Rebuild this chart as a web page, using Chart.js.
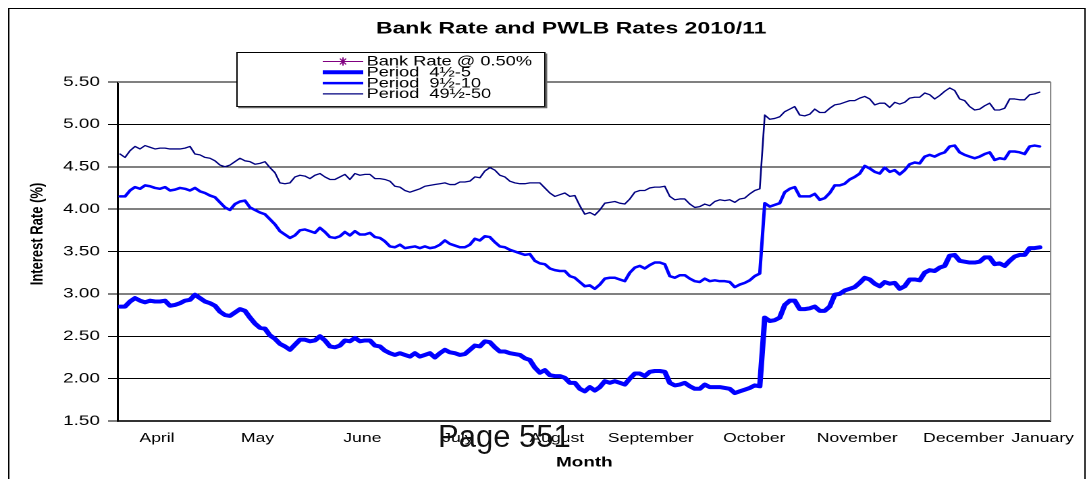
<!DOCTYPE html>
<html>
<head>
<meta charset="utf-8">
<title>Bank Rate and PWLB Rates 2010/11</title>
<script src="https://cdn.jsdelivr.net/npm/chart.js@4/dist/chart.umd.min.js"></script>
<style>
  html, body { margin: 0; padding: 0; background: #fff; }
  #page { position: relative; width: 1087px; height: 479px; overflow: hidden; }
  /* the scanned chart is stretched sideways, so draw it narrower and widen it */
  #stretch { position: absolute; left: 0; top: 0; width: 805px; height: 479px;
             transform: scaleX(1.3503); transform-origin: 0 0; }
  #pageNo { position: absolute; left: 438px; top: 419px; color: #111;
            font-family: 'Liberation Sans', Arial, sans-serif; font-size: 31px; line-height: 36px; }
</style>
</head>
<body>
<div id="page">
  <div id="stretch"><canvas id="rateChart"></canvas></div>
  <div id="pageNo">Page 551</div>
</div>
<script>
// Bank Rate and PWLB rates, one value per business day, April 2010 - January 2011

const chartTitle = 'Bank Rate and PWLB Rates 2010/11';
const yTitle = 'Interest Rate (%)';
const xTitle = 'Month';

const monthNames = ['April', 'May', 'June', 'July', 'August', 'September',
                    'October', 'November', 'December', 'January'];
// where each month label sits along the day axis
const monthPos = [7.4, 27.5, 48.5, 67.6, 87.4, 106.2, 126.9, 147.5, 168.8, 184.6];

const period5 = [
  2.85, 2.85, 2.91, 2.95, 2.92, 2.90, 2.92, 2.91, 2.91, 2.92,
  2.86, 2.87, 2.89, 2.92, 2.93, 2.99, 2.95, 2.91, 2.89, 2.86,
  2.79, 2.75, 2.74, 2.78, 2.82, 2.80, 2.72, 2.65, 2.60, 2.59,
  2.51, 2.47, 2.41, 2.38, 2.34, 2.40, 2.46, 2.46, 2.44, 2.45,
  2.50, 2.45, 2.38, 2.37, 2.39, 2.45, 2.44, 2.48, 2.44, 2.45,
  2.45, 2.39, 2.38, 2.33, 2.30, 2.28, 2.30, 2.28, 2.26, 2.30,
  2.26, 2.28, 2.30, 2.25, 2.30, 2.34, 2.31, 2.30, 2.28, 2.29,
  2.34, 2.39, 2.38, 2.44, 2.43, 2.37, 2.32, 2.32, 2.30, 2.29,
  2.28, 2.24, 2.22, 2.13, 2.07, 2.10, 2.04, 2.03, 2.03, 2.01,
  1.95, 1.95, 1.88, 1.85, 1.90, 1.86, 1.90, 1.97, 1.95, 1.97,
  1.95, 1.93, 2.00, 2.06, 2.06, 2.03, 2.08, 2.09, 2.09, 2.08,
  1.95, 1.92, 1.93, 1.95, 1.91, 1.88, 1.88, 1.93, 1.90, 1.90,
  1.90, 1.89, 1.88, 1.83, 1.85, 1.87, 1.89, 1.92, 1.91, 2.72,
  2.68, 2.69, 2.72, 2.87, 2.92, 2.92, 2.82, 2.82, 2.83, 2.85,
  2.80, 2.80, 2.85, 2.99, 3.00, 3.04, 3.06, 3.08, 3.13, 3.19,
  3.17, 3.12, 3.09, 3.14, 3.12, 3.13, 3.06, 3.09, 3.17, 3.17,
  3.16, 3.25, 3.28, 3.27, 3.31, 3.33, 3.45, 3.46, 3.39, 3.38,
  3.37, 3.37, 3.38, 3.43, 3.43, 3.35, 3.36, 3.33, 3.39, 3.44,
  3.46, 3.46, 3.54, 3.54, 3.55
];

const period10 = [
  4.15, 4.15, 4.22, 4.26, 4.24, 4.28, 4.27, 4.25, 4.24, 4.26,
  4.22, 4.23, 4.25, 4.24, 4.22, 4.25, 4.21, 4.19, 4.16, 4.14,
  4.08, 4.02, 3.99, 4.06, 4.09, 4.10, 4.02, 3.99, 3.96, 3.94,
  3.88, 3.82, 3.74, 3.70, 3.66, 3.69, 3.75, 3.76, 3.74, 3.72,
  3.78, 3.73, 3.67, 3.66, 3.68, 3.73, 3.69, 3.74, 3.70, 3.70,
  3.72, 3.67, 3.66, 3.62, 3.56, 3.55, 3.58, 3.54, 3.55, 3.56,
  3.54, 3.56, 3.54, 3.55, 3.58, 3.63, 3.59, 3.57, 3.55, 3.55,
  3.58, 3.65, 3.63, 3.68, 3.67, 3.61, 3.56, 3.55, 3.52, 3.50,
  3.48, 3.46, 3.47, 3.39, 3.36, 3.35, 3.30, 3.28, 3.27, 3.27,
  3.21, 3.19, 3.14, 3.09, 3.10, 3.06, 3.11, 3.18, 3.19, 3.19,
  3.17, 3.15, 3.25, 3.31, 3.33, 3.30, 3.34, 3.37, 3.37, 3.35,
  3.21, 3.19, 3.22, 3.22, 3.18, 3.15, 3.14, 3.18, 3.15, 3.16,
  3.15, 3.15, 3.14, 3.08, 3.11, 3.13, 3.16, 3.21, 3.24, 4.07,
  4.03, 4.05, 4.07, 4.20, 4.24, 4.26, 4.15, 4.15, 4.15, 4.18,
  4.11, 4.13, 4.19, 4.28, 4.28, 4.30, 4.35, 4.38, 4.42, 4.51,
  4.48, 4.44, 4.42, 4.49, 4.44, 4.46, 4.41, 4.46, 4.53, 4.55,
  4.54, 4.62, 4.64, 4.62, 4.65, 4.67, 4.74, 4.75, 4.67, 4.64,
  4.62, 4.60, 4.62, 4.65, 4.67, 4.58, 4.60, 4.59, 4.68, 4.68,
  4.67, 4.65, 4.74, 4.75, 4.74
];

const period50 = [
  4.65, 4.61, 4.69, 4.74, 4.71, 4.75, 4.73, 4.71, 4.72, 4.72,
  4.71, 4.71, 4.71, 4.72, 4.74, 4.65, 4.64, 4.61, 4.60, 4.57,
  4.52, 4.50, 4.52, 4.56, 4.60, 4.57, 4.56, 4.53, 4.54, 4.56,
  4.49, 4.43, 4.31, 4.30, 4.31, 4.38, 4.40, 4.39, 4.36, 4.40,
  4.42, 4.38, 4.35, 4.35, 4.38, 4.41, 4.35, 4.42, 4.40, 4.41,
  4.41, 4.36, 4.36, 4.35, 4.33, 4.27, 4.26, 4.22, 4.20, 4.22,
  4.24, 4.27, 4.28, 4.29, 4.30, 4.31, 4.29, 4.29, 4.32, 4.32,
  4.33, 4.38, 4.37, 4.45, 4.49, 4.46, 4.40, 4.38, 4.33, 4.31,
  4.30, 4.30, 4.31, 4.31, 4.31, 4.25, 4.19, 4.15, 4.17, 4.19,
  4.15, 4.16, 4.04, 3.94, 3.96, 3.93, 3.99, 4.07, 4.08, 4.09,
  4.07, 4.06, 4.12, 4.20, 4.22, 4.22, 4.25, 4.26, 4.26, 4.27,
  4.15, 4.11, 4.12, 4.12, 4.06, 4.02, 4.03, 4.06, 4.04, 4.09,
  4.11, 4.10, 4.11, 4.08, 4.12, 4.13, 4.18, 4.22, 4.24, 5.11,
  5.06, 5.07, 5.09, 5.15, 5.18, 5.21, 5.11, 5.10, 5.12, 5.18,
  5.14, 5.14, 5.19, 5.23, 5.24, 5.26, 5.28, 5.28, 5.31, 5.33,
  5.30, 5.23, 5.25, 5.25, 5.20, 5.26, 5.24, 5.26, 5.31, 5.32,
  5.32, 5.37, 5.35, 5.30, 5.34, 5.39, 5.43, 5.40, 5.30, 5.28,
  5.21, 5.17, 5.18, 5.22, 5.25, 5.17, 5.17, 5.19, 5.30, 5.30,
  5.29, 5.29, 5.35, 5.36, 5.38
];

// Bank Rate held at 0.50% all year (below the visible axis)
const bankRate = new Array(period5.length).fill(0.50);

const dayIndex = period5.map((v, i) => i);

// title, y title, legend box and page frame, drawn like the original sheet
const sheetDecor = {
  id: 'sheetDecor',
  beforeDatasetsDraw(chart) {
    const { ctx, chartArea: a } = chart;
    ctx.save();
    ctx.strokeStyle = '#808080';
    ctx.lineWidth = 1;
    ctx.beginPath();
    ctx.moveTo(a.left, a.top + 0.5);
    ctx.lineTo(a.right, a.top + 0.5);
    ctx.lineTo(a.right, a.bottom);
    ctx.stroke();
    ctx.restore();
  },
  afterDraw(chart) {
    const ctx = chart.ctx;
    const font = "'Liberation Sans', Arial, sans-serif";
    ctx.save();

    // outer frame of the sheet
    ctx.strokeStyle = '#000';
    ctx.lineWidth = 1;
    ctx.strokeRect(6.5, 8.5, 797, 490);

    ctx.fillStyle = '#000';
    ctx.textAlign = 'center';
    ctx.textBaseline = 'middle';
    ctx.font = 'bold 17px ' + font;
    ctx.fillText(chartTitle, 423, 29);

    ctx.save();
    ctx.translate(28, 234);
    ctx.rotate(-Math.PI / 2);
    ctx.font = 'bold 13px ' + font;
    ctx.fillText(yTitle, 0, 0);
    ctx.restore();

    // legend
    const box = { l: 175.5, t: 52.5, r: 403.5, b: 106.5 };
    ctx.fillStyle = '#fff';
    ctx.fillRect(box.l, box.t, box.r - box.l, box.b - box.t);
    ctx.strokeStyle = '#000';
    ctx.strokeRect(box.l, box.t, box.r - box.l, box.b - box.t);
    ctx.strokeStyle = '#666';
    ctx.lineWidth = 1.5;
    ctx.beginPath();
    ctx.moveTo(box.l + 1, box.b + 1);
    ctx.lineTo(box.r + 1, box.b + 1);
    ctx.lineTo(box.r + 1, box.t + 1);
    ctx.stroke();

    ctx.textAlign = 'left';
    ctx.font = '13.5px ' + font;
    chart.data.datasets.forEach((ds, i) => {
      const y = 61.5 + i * 10.8;
      ctx.strokeStyle = ds.borderColor;
      ctx.lineWidth = ds.borderWidth;
      ctx.beginPath();
      ctx.moveTo(239, y);
      ctx.lineTo(269, y);
      ctx.stroke();
      if (ds.pointStyle === 'star') {
        ctx.lineWidth = 1;
        const cx = 254, r = 3.2;
        for (let k = 0; k < 4; k++) {
          const ang = k * Math.PI / 4;
          ctx.beginPath();
          ctx.moveTo(cx - r * Math.cos(ang), y - r * 1.3 * Math.sin(ang));
          ctx.lineTo(cx + r * Math.cos(ang), y + r * 1.3 * Math.sin(ang));
          ctx.stroke();
        }
      }
      ctx.fillStyle = '#000';
      ctx.fillText(ds.label, 271.5, y + 0.5);
    });
    ctx.restore();
  }
};

const ctx = document.getElementById('rateChart').getContext('2d');

new Chart(ctx, {
  type: 'line',
  data: {
    labels: dayIndex,
    datasets: [
      {
        label: 'Bank Rate @ 0.50%',
        data: bankRate,
        borderColor: '#800080',
        borderWidth: 1,
        pointStyle: 'star'
      },
      {
        label: 'Period  4½-5',
        data: period5,
        borderColor: '#0000ff',
        borderWidth: 4
      },
      {
        label: 'Period  9½-10',
        data: period10,
        borderColor: '#0000ff',
        borderWidth: 2.5
      },
      {
        label: 'Period  49½-50',
        data: period50,
        borderColor: '#000080',
        borderWidth: 1.3
      }
    ]
  },
  options: {
    responsive: true,
    maintainAspectRatio: false,
    devicePixelRatio: 2,
    animation: false,
    layout: { padding: { left: 10, right: 26.6, top: 82, bottom: 4 } },
    elements: {
      point: { radius: 0, hoverRadius: 0 },
      line: { tension: 0, borderJoinStyle: 'round', borderCapStyle: 'round' }
    },
    plugins: {
      legend: { display: false },
      title: { display: false },
      tooltip: { enabled: false }
    },
    scales: {
      x: {
        type: 'linear',
        min: -0.4,
        max: 186.2,
        afterFit: scale => { scale.height = 54; },
        grid: { display: false, drawTicks: false },
        border: { color: '#333', width: 2 },
        afterBuildTicks: scale => { scale.ticks = monthPos.map(v => ({ value: v })); },
        ticks: {
          autoSkip: false,
          maxRotation: 0,
          padding: 9.5,
          color: '#000',
          font: { family: "'Liberation Sans', Arial, sans-serif", size: 13 },
          callback: (value, index) => monthNames[index]
        },
        title: {
          display: true,
          text: xTitle,
          color: '#000',
          font: { family: "'Liberation Sans', Arial, sans-serif", size: 14, weight: 'bold' },
          padding: { top: 0, bottom: 4 }
        }
      },
      y: {
        min: 1.5,
        max: 5.5,
        afterFit: scale => { scale.width = 77.4; },
        grid: { color: '#000', lineWidth: 1, tickLength: 7.4 },
        border: { color: '#000', width: 1.5 },
        ticks: {
          stepSize: 0.5,
          padding: 6,
          color: '#000',
          font: { family: "'Liberation Sans', Arial, sans-serif", size: 14 },
          callback: v => v.toFixed(2)
        }
      }
    }
  },
  plugins: [sheetDecor]
});
</script>
</body>
</html>
